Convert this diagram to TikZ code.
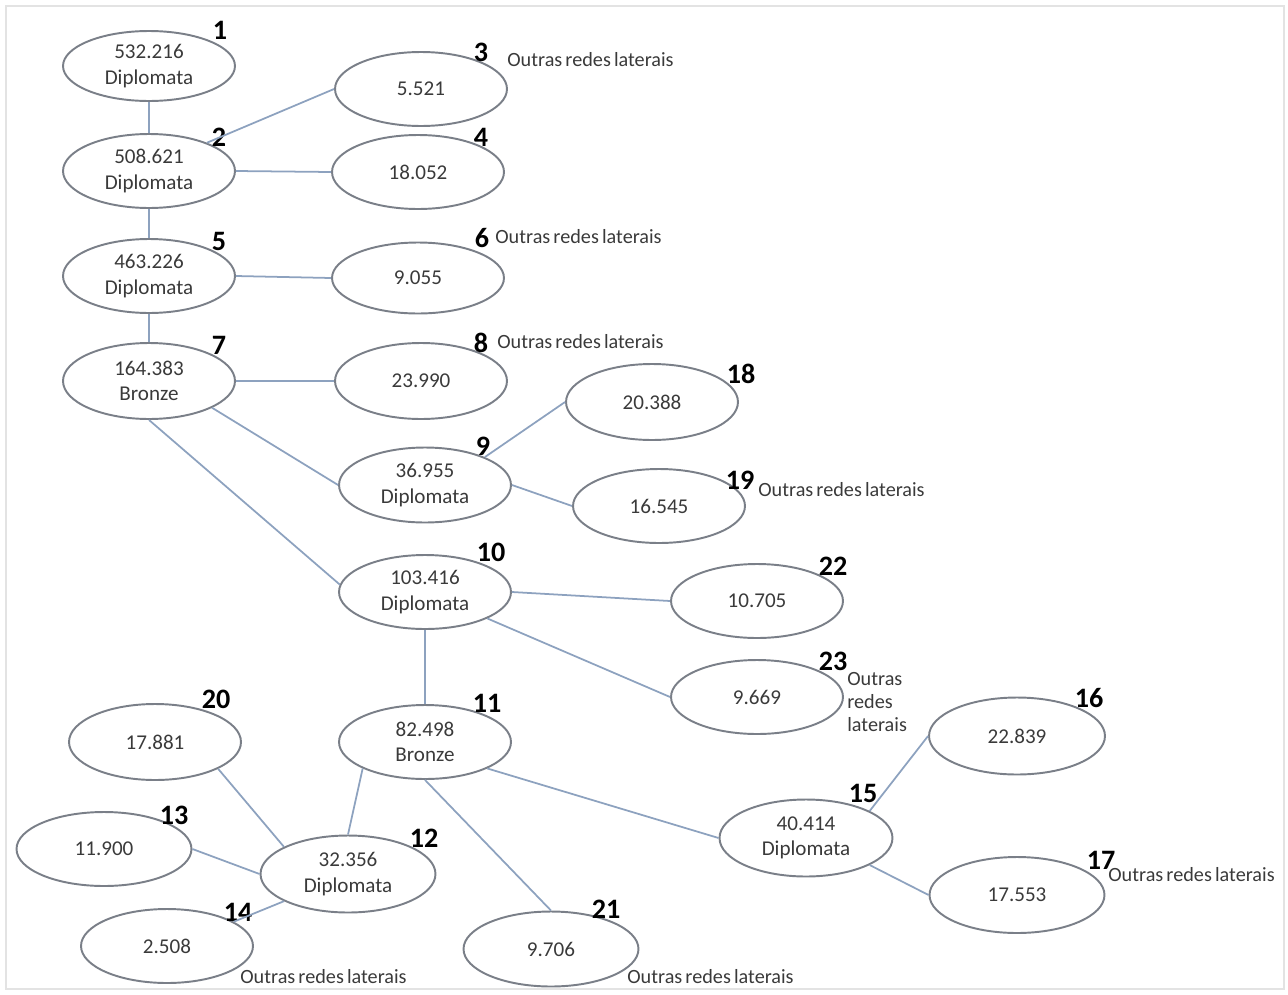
\documentclass[tikz,border=0pt]{standalone}
\usepackage{fontspec}
\setmainfont{Carlito}
\usetikzlibrary{shapes.geometric,calc}
\definecolor{elline}{HTML}{7A7F88}
\definecolor{connc}{HTML}{8DA2BF}
\definecolor{txt}{HTML}{3A3A3A}
\newcommand\myoutras{Outras\hspace{1.8pt}redes\hspace{1.8pt}laterais}
\begin{document}
\begin{tikzpicture}[x=0.02cm,y=-0.02cm,
 el/.style={ellipse, draw=elline, line width=1.1pt, minimum width=3.44cm, minimum height=1.48cm, inner sep=0pt, align=center, text=txt, font=\fontsize{12}{14.4}\selectfont},
 num/.style={font=\fontsize{16}{18}\selectfont\bfseries, text=black, inner sep=0pt},
 other/.style={font=\fontsize{11.5}{13}\selectfont, text=txt, inner sep=0pt, anchor=west, align=left},
 link/.style={draw=connc, line width=1pt}]
\useasboundingbox (0,0) rectangle (1288,994);
\draw[gray!22, line width=1.2pt] (6,6) rectangle (1284,989);

% ellipses
\node[el, minimum height=1.40cm] (n1) at (149,66) {532.216\\Diplomata};
\node[el] (n2) at (149,171) {508.621\\Diplomata};
\node[el] (n3) at (421,89) {5.521};
\node[el] (n4) at (418,172) {18.052};
\node[el] (n5) at (149,276) {463.226\\Diplomata};
\node[el, minimum height=1.42cm] (n6) at (418,278) {9.055};
\node[el, minimum height=1.52cm] (n7) at (149,381) {164.383\\Bronze};
\node[el, minimum height=1.52cm] (n8) at (421,381) {23.990};
\node[el, minimum height=1.52cm] (n18) at (652,402) {20.388};
\node[el, minimum height=1.50cm] (n9) at (425,485) {36.955\\Diplomata};
\node[el] (n19) at (659,506) {16.545};
\node[el] (n10) at (425,592) {103.416\\Diplomata};
\node[el] (n22) at (757,601) {10.705};
\node[el] (n23) at (757,697) {9.669};
\node[el] (n11) at (425,742) {82.498\\Bronze};
\node[el, minimum height=1.52cm] (n20) at (155,742) {17.881};
\node[el, minimum width=3.50cm] (n13) at (104,849) {11.900};
\node[el, minimum width=3.50cm, minimum height=1.54cm] (n12) at (348,874) {32.356\\Diplomata};
\node[el] (n14) at (167,946) {2.508};
\node[el, minimum width=3.50cm, minimum height=1.50cm] (n21) at (551,949) {9.706};
\node[el, minimum width=3.46cm, minimum height=1.54cm] (n15) at (806,838) {40.414\\Diplomata};
\node[el, minimum width=3.52cm, minimum height=1.54cm] (n16) at (1017,736) {22.839};
\node[el, minimum width=3.50cm, minimum height=1.52cm] (n17) at (1017,895) {17.553};

% number labels
\node[num] (l1) at (220,30) {1};
\node[num] (l2) at (219,137) {2};
\node[num] (l3) at (481,52) {3};
\node[num] (l4) at (481,137) {4};
\node[num] (l5) at (219,241) {5};
\node[num] (l6) at (482,238) {6};
\node[num] (l7) at (219,345) {7};
\node[num] (l8) at (481,343) {8};
\node[num] (l18) at (741,374) {18};
\node[num] (l9) at (483,446) {9};
\node[num] (l19) at (740,480) {19};
\node[num] (l10) at (491,552) {10};
\node[num] (l22) at (833,566) {22};
\node[num] (l23) at (833,661) {23};
\node[num] (l11) at (487,703) {11};
\node[num] (l20) at (216,699) {20};
\node[num] (l16) at (1089,698) {16};
\node[num] (l15) at (863,793) {15};
\node[num] (l13) at (174,815) {13};
\node[num] (l12) at (424,838) {12};
\node[num] (l17) at (1101,860) {17};
\node[num] (l14) at (238,912) {14};
\node[num] (l21) at (606,909) {21};

% side texts
\node[other] (o3) at (507,60) {\myoutras};
\node[other] (o6) at (495,237) {\myoutras};
\node[other] (o8) at (497,342) {\myoutras};
\node[other] (o19) at (758,490) {\myoutras};
\node[other] (o23) at (847,702) {Outras\\redes\\laterais};
\node[other] (o17) at (1108,875) {\myoutras};
\node[other] (o14) at (240,977) {\myoutras};
\node[other] (o21) at (627,977) {\myoutras};

% connectors
\draw[link] (n1.south) -- (n2.north);
\draw[link] (n2.26) -- (n3.west);
\draw[link] (n2.east) -- (n4.west);
\draw[link] (n2.south) -- (n5.north);
\draw[link] (n5.east) -- (n6.west);
\draw[link] (n5.south) -- (n7.north);
\draw[link] (n7.east) -- (n8.west);
\draw[link] (n7.-23) -- (n9.west);
\draw[link] (n7.south) -- (n10.175);
\draw[link] (n9.25) -- (n18.west);
\draw[link] (n9.east) -- (n19.west);
\draw[link] (n10.east) -- (n22.west);
\draw[link] (n10.-23) -- (n23.west);
\draw[link] (n10.south) -- (n11.north);
\draw[link] (n11.-157) -- (n12.north);
\draw[link] (n11.south) -- (n21.north);
\draw[link] (n11.-23) -- (n15.west);
\draw[link] (n20.-23) -- (n12.157);
\draw[link] (n13.east) -- (n12.west);
\draw[link] (n12.-157) -- (n14.20);
\draw[link] (n15.23) -- (n16.west);
\draw[link] (n15.-23) -- (n17.west);
\end{tikzpicture}
\end{document}
